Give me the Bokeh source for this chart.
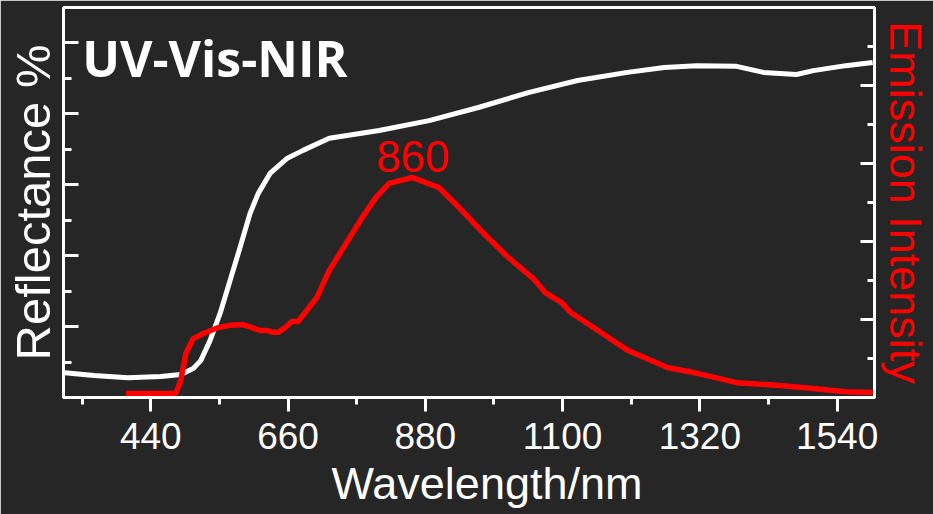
from bokeh.plotting import figure
from bokeh.models import (LinearAxis, Range1d, SingleIntervalTicker, CustomJSTickFormatter,
                          Label, Title, ColumnDataSource)
from bokeh.embed import file_html
from bokeh.resources import INLINE

# ---- data ----
refl_wavelength = [302, 349, 403, 456, 488, 508, 520, 535, 551, 567, 583, 599, 612, 631,
                   658, 684, 726, 806, 886, 965, 1045, 1124, 1204, 1263, 1315, 1379,
                   1422, 1475, 1502, 1554, 1597]
refl_percent = [7.0, 6.2, 5.6, 5.9, 6.5, 8.2, 10.4, 16.1, 23.7, 33.0, 42.3, 51.9, 57.5, 63.2,
                67.4, 69.7, 73.1, 75.3, 78.1, 81.8, 86.0, 89.4, 91.7, 93.1, 93.6, 93.4,
                91.7, 91.1, 92.2, 93.6, 94.5]

em_wavelength = [400, 440, 480, 488, 496, 508, 524, 547, 567, 588, 602, 615, 626, 636, 644,
                 655, 666, 676, 690, 706, 726, 758, 779, 801, 822, 859, 902, 934, 977,
                 1013, 1053, 1072, 1098, 1113, 1152, 1204, 1268, 1316, 1379, 1448, 1502,
                 1554, 1597]
em_intensity = [0.10, 0.10, 0.10, 0.44, 1.13, 1.51, 1.64, 1.79, 1.85, 1.87, 1.79, 1.72, 1.72,
                1.67, 1.67, 1.79, 1.95, 1.95, 2.23, 2.56, 3.26, 4.08, 4.62, 5.13, 5.49, 5.64,
                5.38, 4.87, 4.15, 3.59, 3.05, 2.69, 2.44, 2.18, 1.77, 1.21, 0.77, 0.62, 0.38,
                0.31, 0.23, 0.15, 0.13]

peak_wavelength = 860
peak_label = "860"
x_tick_interval = 220
x_title = "Wavelength/nm"

BG = "#262626"
RED = "#ff0000"
FONT = "Liberation Sans"

p = figure(width=933, height=514, x_range=Range1d(300, 1600), y_range=Range1d(0, 110),
           output_backend="svg", toolbar_location=None,
           background_fill_color=BG, border_fill_color=BG,
           outline_line_color="white", outline_line_width=3,
           min_border_top=7, min_border_left=63, min_border_right=55, min_border_bottom=117)
p.extra_y_ranges = {"em": Range1d(0, 10)}
p.xgrid.visible = False
p.ygrid.visible = False

blank = CustomJSTickFormatter(code="return ''")

# bottom axis
xa = p.xaxis[0]
xa.ticker = SingleIntervalTicker(interval=x_tick_interval, num_minor_ticks=2)
xa.axis_line_color = "white"
xa.axis_line_width = 3
xa.major_tick_line_color = "white"
xa.major_tick_line_width = 3
xa.minor_tick_line_color = "white"
xa.minor_tick_line_width = 3
xa.major_tick_in = 0
xa.major_tick_out = 14
xa.minor_tick_in = 0
xa.minor_tick_out = 7
xa.major_label_text_font = FONT
xa.major_label_text_font_size = "37px"
xa.major_label_text_color = "white"
xa.major_label_standoff = 11

# x-axis title, slightly right of centre as in the original
p.add_layout(Title(text=x_title, align="left", offset=268, standoff=8,
                   text_font=FONT, text_font_size="45px", text_font_style="normal",
                   text_color="white"), "below")

# left axis
ya = p.yaxis[0]
ya.ticker = SingleIntervalTicker(interval=20, num_minor_ticks=2)
ya.formatter = blank
ya.axis_label = "Reflectance %"
ya.axis_line_color = "white"
ya.axis_line_width = 3
ya.major_tick_line_color = "white"
ya.major_tick_line_width = 3
ya.minor_tick_line_color = "white"
ya.minor_tick_line_width = 3
ya.major_tick_in = 15
ya.major_tick_out = 0
ya.minor_tick_in = 8
ya.minor_tick_out = 0
ya.major_label_standoff = 0
ya.axis_label_text_font = FONT
ya.axis_label_text_font_size = "49px"
ya.axis_label_text_font_style = "normal"
ya.axis_label_text_color = "white"
ya.axis_label_standoff = 4

# right axis
ra = LinearAxis(y_range_name="em", ticker=SingleIntervalTicker(interval=2, num_minor_ticks=2),
                formatter=blank, axis_label="Emission Intensity")
ra.axis_line_color = "white"
ra.axis_line_width = 3
ra.major_tick_line_color = "white"
ra.major_tick_line_width = 3
ra.minor_tick_line_color = "white"
ra.minor_tick_line_width = 3
ra.major_tick_in = 14
ra.major_tick_out = 0
ra.minor_tick_in = 7
ra.minor_tick_out = 0
ra.major_label_standoff = 0
ra.axis_label_text_font = FONT
ra.axis_label_text_font_size = "45px"
ra.axis_label_text_font_style = "normal"
ra.axis_label_text_color = RED
ra.axis_label_standoff = 5
p.add_layout(ra, "right")

# curves
src_r = ColumnDataSource(dict(x=refl_wavelength, y=refl_percent))
src_e = ColumnDataSource(dict(x=em_wavelength, y=em_intensity))
p.line("x", "y", source=src_r, line_color="white", line_width=5, line_join="round")
p.line("x", "y", source=src_e, line_color=RED, line_width=5.5, line_join="round", y_range_name="em")

# annotations
idx = em_wavelength.index(min(em_wavelength, key=lambda w: abs(w - peak_wavelength)))
p.add_layout(Label(x=peak_wavelength, y=em_intensity[idx] + 0.55, y_range_name="em",
                   text=peak_label, text_color=RED, text_font=FONT, text_font_size="44px",
                   text_align="center", text_baseline="alphabetic"))
p.add_layout(Label(x=330, y=95.8, text="UV-Vis-NIR", text_color="white", text_font="Open Sans",
                   text_font_style="bold", text_font_size="50px", text_align="left",
                   text_baseline="alphabetic"))

open("out.html", "w").write(file_html(p, INLINE))
